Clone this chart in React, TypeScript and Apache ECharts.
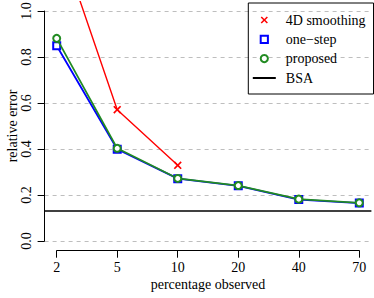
import React, { useEffect, useRef } from 'react';
import * as echarts from 'echarts';

const categories = ['2', '5', '10', '20', '40', '70'];
const smoothing4D: (number | null)[] = [1.34, 0.571, 0.329, null, null, null];
const oneStep = [0.849, 0.399, 0.271, 0.24, 0.18, 0.165];
const proposed = [0.881, 0.403, 0.272, 0.241, 0.182, 0.166];
const bsa = 0.126;
const yTickValues = [0, 0.2, 0.4, 0.6, 0.8, 1.0];

const FONT = 'Liberation Serif';
const FS = 14;
const CROSS = 'path://M0,1.5 L1.5,0 L5,3.5 L8.5,0 L10,1.5 L6.5,5 L10,8.5 L8.5,10 L5,6.5 L1.5,10 L0,8.5 L3.5,5 Z';

const toPairs = (arr: (number | null)[]) =>
  arr.map((v, i) => (v == null ? null : [i, v])).filter((p) => p !== null);

const nameOnly = {
  axisLine: { show: false, onZero: false },
  axisTick: { show: false },
  axisLabel: { show: false },
  splitLine: { show: false },
  nameLocation: 'middle',
  nameMoveOverlap: false,
  nameTextStyle: { color: '#000', fontSize: FS, fontFamily: FONT },
};

export default function App() {
  const ref = useRef<HTMLDivElement>(null);
  useEffect(() => {
    if (!ref.current) return;
    const chart = echarts.init(ref.current, undefined, { renderer: 'svg' });
    const yMin = yTickValues[0];
    const yMax = yTickValues[yTickValues.length - 1];
    const yPad = (yMax - yMin) * 0.04;
    const n = categories.length - 1;
    const xPad = n * 0.04;
    const gridBase = { outerBoundsMode: 'none', containLabel: false };
    chart.setOption({
      animation: false,
      textStyle: { fontFamily: FONT },
      grid: [
        { ...gridBase, left: 44.6, top: 1.8, width: 326.8, height: 248.4 },
        { ...gridBase, left: 44.6, top: 11, width: 326.8, height: 230 },
        { ...gridBase, left: 56.7, top: 1.8, width: 302.6, height: 248.9 },
      ],
      xAxis: [
        {
          ...nameOnly,
          gridIndex: 0,
          type: 'value',
          min: -xPad,
          max: n + xPad,
          position: 'bottom',
          name: 'percentage observed',
          nameGap: 27.5,
        },
        { gridIndex: 1, type: 'value', min: -xPad, max: n + xPad, show: false, axisLine: { onZero: false } },
        {
          gridIndex: 2,
          type: 'category',
          data: categories,
          boundaryGap: false,
          position: 'bottom',
          axisLine: { show: true, onZero: false, lineStyle: { color: '#000', width: 1 } },
          axisTick: { show: true, length: 7, lineStyle: { color: '#000', width: 1 } },
          axisLabel: { color: '#000', fontSize: FS, fontFamily: FONT, margin: 10 },
          splitLine: { show: false },
        },
      ],
      yAxis: [
        {
          ...nameOnly,
          gridIndex: 0,
          type: 'value',
          min: yMin - yPad,
          max: yMax + yPad,
          position: 'left',
          name: 'relative error',
          nameRotate: 90,
          nameGap: 25.5,
        },
        {
          gridIndex: 1,
          type: 'value',
          min: yMin,
          max: yMax,
          position: 'left',
          interval: yTickValues[1] - yTickValues[0],
          axisLine: { show: true, onZero: false, lineStyle: { color: '#000', width: 1 } },
          axisTick: { show: true, length: 7, lineStyle: { color: '#000', width: 1 } },
          axisLabel: {
            color: '#000',
            fontSize: FS,
            fontFamily: FONT,
            rotate: 90,
            margin: 11,
            formatter: (v: number) => v.toFixed(1),
          },
          splitLine: { show: true, lineStyle: { color: '#bebebe', type: [4, 4], width: 1 } },
        },
        { gridIndex: 2, type: 'value', show: false, axisLine: { onZero: false } },
      ],
      legend: [
        {
          left: 248.3,
          top: 3,
          orient: 'vertical',
          borderColor: '#000',
          borderWidth: 1,
          borderRadius: 0,
          padding: [10, 8, 28.4, 3.5],
          itemWidth: 23,
          itemHeight: 9,
          itemGap: 5.3,
          textStyle: { color: '#000', fontSize: FS, fontFamily: FONT, padding: [0, 0, 0, 5] },
          data: [
            { name: '4D smoothing', lineStyle: { opacity: 0 } },
            { name: 'one−step', lineStyle: { opacity: 0 } },
            { name: 'proposed', lineStyle: { opacity: 0 } },
          ],
          selectedMode: false,
        },
        {
          left: 251.8,
          top: 71,
          orient: 'vertical',
          padding: 0,
          itemWidth: 23,
          itemHeight: 9,
          textStyle: { color: '#000', fontSize: FS, fontFamily: FONT, padding: [0, 0, 0, 5] },
          data: [{ name: 'BSA', itemStyle: { opacity: 0 } }],
          selectedMode: false,
        },
      ],
      series: [
        {
          name: '4D smoothing',
          type: 'line',
          xAxisIndex: 0,
          yAxisIndex: 0,
          data: toPairs(smoothing4D),
          color: '#ff0000',
          lineStyle: { color: '#ff0000', width: 1.4 },
          symbol: CROSS,
          symbolSize: 8,
          itemStyle: { color: '#ff0000' },
          z: 2,
        },
        {
          name: 'one−step',
          type: 'line',
          xAxisIndex: 0,
          yAxisIndex: 0,
          data: toPairs(oneStep),
          color: '#0000ff',
          lineStyle: { color: '#0000ff', width: 1.8 },
          symbol: 'emptyRect',
          symbolSize: 7,
          itemStyle: { color: '#0000ff', borderWidth: 1.6 },
          z: 3,
        },
        {
          name: 'proposed',
          type: 'line',
          xAxisIndex: 0,
          yAxisIndex: 0,
          data: toPairs(proposed),
          color: '#228b22',
          lineStyle: { color: '#228b22', width: 1.8 },
          symbol: 'emptyCircle',
          symbolSize: 7,
          itemStyle: { color: '#228b22', borderWidth: 1.6 },
          z: 4,
        },
        {
          name: 'BSA',
          type: 'line',
          xAxisIndex: 0,
          yAxisIndex: 0,
          data: [],
          color: '#000',
          symbol: 'none',
          lineStyle: { color: '#000', width: 1.5 },
          markLine: {
            silent: true,
            symbol: ['none', 'none'],
            label: { show: false },
            lineStyle: { color: '#000', width: 1.5, type: 'solid' },
            data: [{ yAxis: bsa }],
          },
          z: 1,
        },
      ],
    });
    return () => chart.dispose();
  }, []);
  return (
    <div
      ref={ref}
      style={{ position: 'fixed', left: 0, top: 0, width: 374, height: 298, background: '#fff' }}
    />
  );
}
